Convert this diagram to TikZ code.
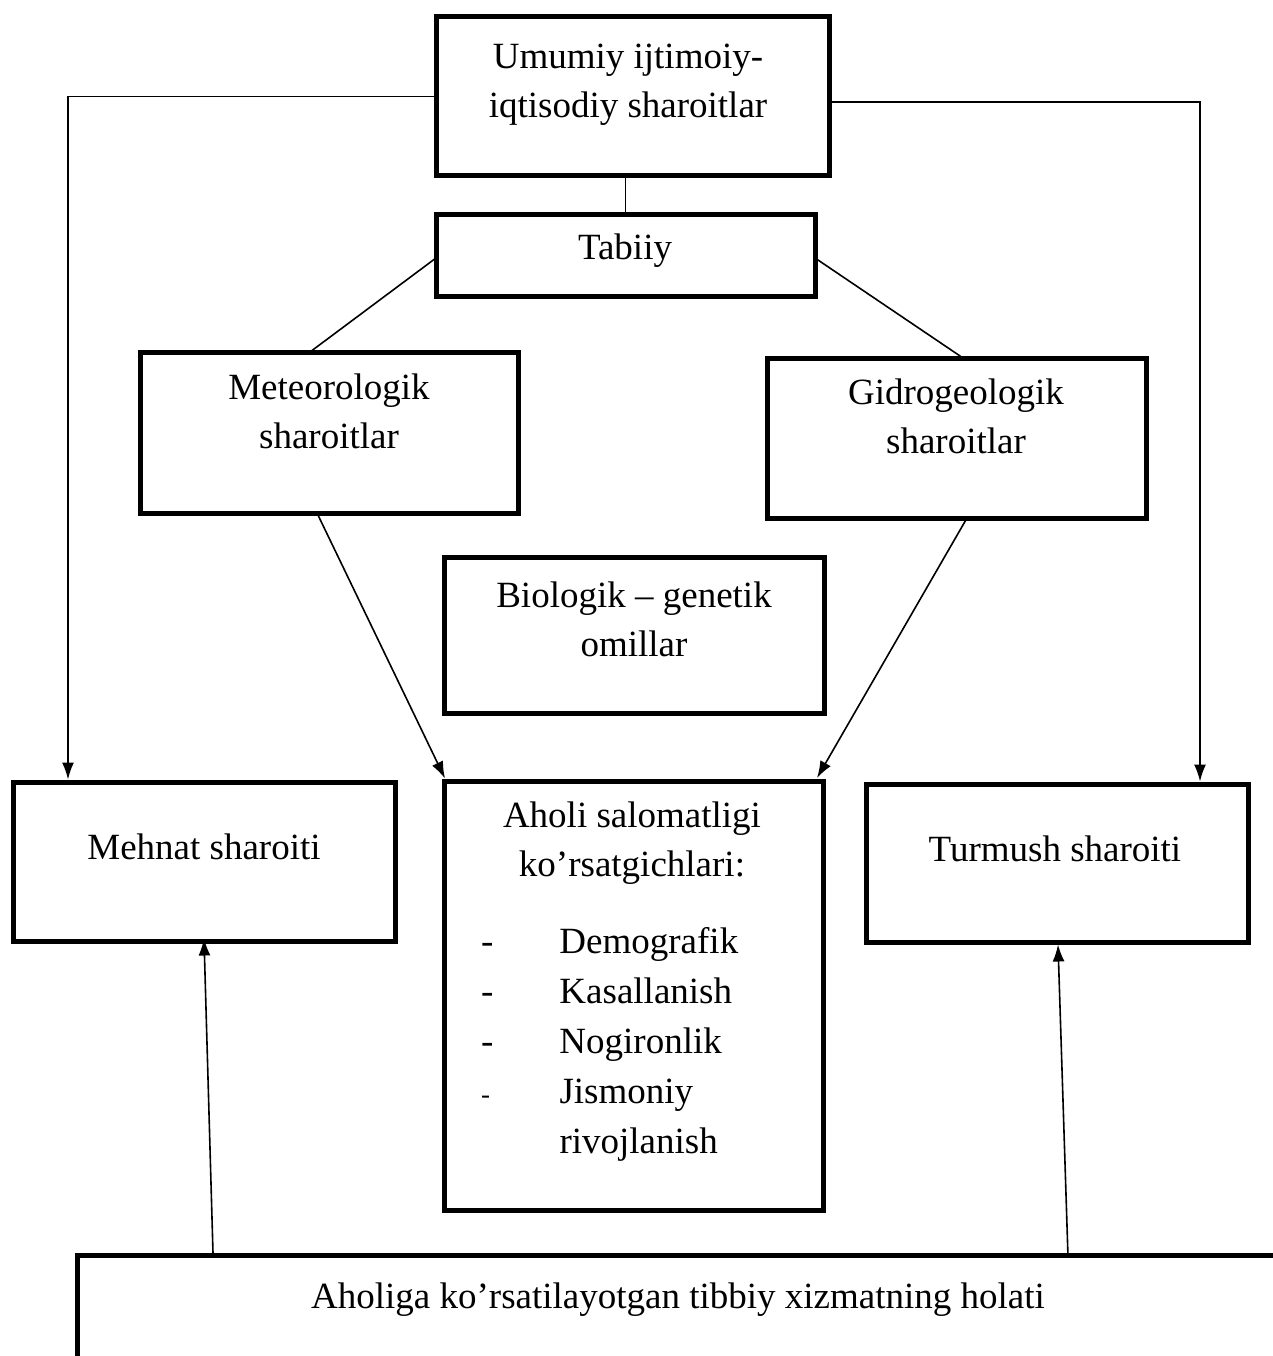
\documentclass[tikz,border=0pt]{standalone}
\usepackage{fontspec}
\setmainfont{Liberation Serif}
\usetikzlibrary{arrows.meta,calc}
\begin{document}
\begin{tikzpicture}[x=1pt,y=-1pt,
  box/.style={draw=black,line width=5pt,rectangle,inner sep=0pt,outer sep=0pt},
  txt/.style={font=\fontsize{37}{49}\selectfont,inner sep=0pt,align=center,anchor=base},
  conn/.style={line width=1.6pt},
  arr/.style={line width=1.6pt,-{Latex[length=17pt,width=12pt]}}]
\useasboundingbox (0,0) rectangle (1272,1356);
% boxes
\node[box,minimum width=393pt,minimum height=159pt] (top) at (632.5,96.5) {};
\node[box,minimum width=379pt,minimum height=81pt] (tabiiy) at (625.5,255.5) {};
\node[box,minimum width=378pt,minimum height=161pt] (meteo) at (329,432.5) {};
\node[box,minimum width=379pt,minimum height=160pt] (gidro) at (956.5,438) {};
\node[box,minimum width=380pt,minimum height=156pt] (bio) at (634,635) {};
\node[box,minimum width=382pt,minimum height=159pt] (mehnat) at (204,861.5) {};
\node[box,minimum width=379pt,minimum height=429pt] (aholi) at (633.5,995.5) {};
\node[box,minimum width=382pt,minimum height=158pt] (turmush) at (1057,863) {};
\node[box,minimum width=1223pt,minimum height=145pt] (tibbiy) at (688.5,1327.5) {};
% texts (anchor base = baseline of last line)
\node[txt] (ttop) at (628,118) {Umumiy ijtimoiy-\\iqtisodiy sharoitlar};
\node[txt] (ttabiiy) at (625,259) {Tabiiy};
\node[txt] (tmeteo) at (329,448) {Meteorologik\\sharoitlar};
\node[txt] (tgidro) at (956,453) {Gidrogeologik\\sharoitlar};
\node[txt] (tbio) at (634,656) {Biologik -- genetik\\omillar};
\node[txt] (tmehnat) at (204,859) {Mehnat sharoiti};
\node[txt] (taholi) at (632,876) {Aholi salomatligi\\ko’rsatgichlari:};
\node[txt,anchor=base west,align=left] (tlist) at (481,953) {%
  \fontsize{37}{50}\selectfont
  \begin{tabular}[t]{@{}l@{\hspace{66pt}}l@{}}
  - & Demografik\\
  - & Kasallanish\\
  - & Nogironlik\\
  {\fontsize{27}{50}\selectfont -} & Jismoniy\\
    & rivojlanish
  \end{tabular}};
\node[txt] (tturmush) at (1055,861) {Turmush sharoiti};
\node[txt] (ttibbiy) at (678,1308) {Aholiga ko’rsatilayotgan tibbiy xizmatning holati};
% connectors
\draw[arr] (top.west) -| ([xshift=55pt,yshift=2.5pt]mehnat.north west);
\draw[arr] ([yshift=-5.5pt]top.east) -| ([xshift=-48pt,yshift=2.5pt]turmush.north east);
\draw[conn] (tabiiy.north |- top.south) -- (tabiiy.north);
\draw[conn] ([yshift=-2.5pt]tabiiy.west) -- ([xshift=-19pt]meteo.north);
\draw[conn] ([yshift=-2.5pt]tabiiy.east) -- ([xshift=6.5pt]gidro.north);
\draw[arr] ([xshift=-12pt]meteo.south) -- ([xshift=-188.5pt,yshift=2.5pt]aholi.north);
\draw[arr] ([xshift=10.5pt]gidro.south) -- ([xshift=183.5pt,yshift=3pt]aholi.north);
\draw[arr] ([xshift=-475.5pt,yshift=2pt]tibbiy.north) -- ([yshift=2.5pt]mehnat.south);
\draw[arr] ([xshift=379.5pt,yshift=-2pt]tibbiy.north) -- ([xshift=1pt,yshift=-2.5pt]turmush.south);
\end{tikzpicture}
\end{document}
